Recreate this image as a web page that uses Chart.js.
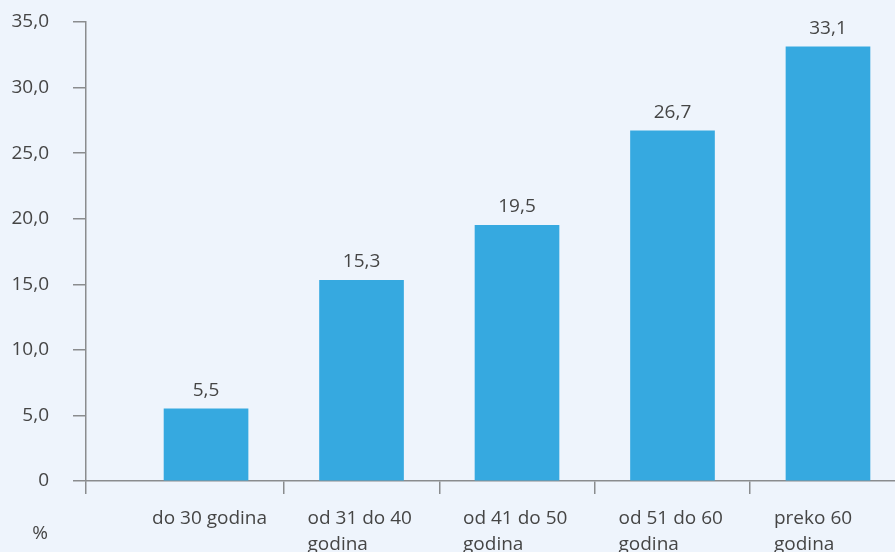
<!DOCTYPE html>
<html>
<head>
<meta charset="utf-8">
<title>Udio po dobnim skupinama</title>
<script src="https://cdn.jsdelivr.net/npm/chart.js@4/dist/chart.umd.min.js"></script>
<style>
    html, body { margin: 0; padding: 0; background: #eef4fc; overflow: hidden; }
    #wrap { width: 895px; height: 552px; position: relative; }
</style>
</head>
<body>
<div id="wrap"><canvas id="ageChart"></canvas></div>
<script>
// age groups (each entry = lines of the axis label)
const categories = [
    ['do 30 godina'],
    ['od 31 do 40', 'godina'],
    ['od 41 do 50', 'godina'],
    ['od 51 do 60', 'godina'],
    ['preko 60', 'godina']
];
// share in percent
const values = [5.5, 15.3, 19.5, 26.7, 33.1];
// y axis ticks
const yTicks = [0, 5, 10, 15, 20, 25, 30, 35];
const unitLabel = '%';

const textColor = '#454545';
const axisColor = '#8a8c8e';
const barColor = '#36a9e0';

// x range so that categories sit where the original puts them
const X_MIN = -0.772;
const X_MAX = 4.431;

// 35.0 -> "35,0", 0 -> "0"
function formatNum(v) {
    return v === 0 ? '0' : v.toFixed(1).replace('.', ',');
}

Chart.defaults.font.family = '"Open Sans", sans-serif';
Chart.defaults.font.size = 19;
Chart.defaults.color = textColor;

// values written above the bars
const barValueLabels = {
    id: 'barValueLabels',
    afterDatasetsDraw(chart) {
        const ctx = chart.ctx;
        const meta = chart.getDatasetMeta(0);
        ctx.save();
        ctx.font = '19px "Open Sans"';
        ctx.fillStyle = textColor;
        ctx.textAlign = 'center';
        ctx.textBaseline = 'alphabetic';
        meta.data.forEach((bar, i) => {
            ctx.fillText(formatNum(values[i]), bar.x, bar.y - 13);
        });
        ctx.restore();
    },
    afterDraw(chart) {
        // unit label in the bottom left corner
        const ctx = chart.ctx;
        ctx.save();
        ctx.font = '19px "Open Sans"';
        ctx.fillStyle = textColor;
        ctx.textAlign = 'center';
        ctx.textBaseline = 'middle';
        ctx.fillText(unitLabel, 40, 534);
        ctx.restore();
    }
};

new Chart(document.getElementById('ageChart').getContext('2d'), {
    type: 'bar',
    data: {
        datasets: [{
            data: values.map((v, i) => ({ x: i, y: v })),
            backgroundColor: barColor,
            borderWidth: 0,
            barThickness: 84,
            xAxisID: 'x',
            yAxisID: 'y'
        }]
    },
    options: {
        responsive: true,
        maintainAspectRatio: false,
        animation: false,
        layout: { padding: { top: 22, right: 0, bottom: 0, left: 0 } },
        plugins: {
            legend: { display: false },
            tooltip: { enabled: false }
        },
        scales: {
            // tick marks between the categories
            x: {
                type: 'linear',
                position: 'bottom',
                min: X_MIN,
                max: X_MAX,
                offset: false,
                afterBuildTicks: scale => {
                    const marks = [X_MIN];
                    for (let i = 1; i < categories.length; i++) marks.push(i - 0.5);
                    scale.ticks = marks.map(v => ({ value: v }));
                },
                ticks: { display: false },
                grid: {
                    offset: false,
                    drawOnChartArea: false,
                    drawTicks: true,
                    tickLength: 13,
                    color: axisColor,
                    lineWidth: 1.5
                },
                border: { display: true, color: axisColor, width: 1.5 },
                afterFit: scale => { scale.height = 13; }
            },
            // category names
            x2: {
                type: 'linear',
                position: 'bottom',
                min: X_MIN,
                max: X_MAX,
                offset: false,
                afterBuildTicks: scale => {
                    scale.ticks = categories.map((c, i) => ({ value: i }));
                },
                ticks: {
                    autoSkip: false,
                    maxRotation: 0,
                    align: 'start',
                    labelOffset: -54,
                    padding: 4,
                    font: { size: 19, lineHeight: 1.37 },
                    callback: v => categories[v]
                },
                grid: { display: false, offset: false },
                border: { display: false },
                afterFit: scale => {
                    scale.height = 58;
                    scale.paddingLeft = 0;
                    scale.paddingRight = 0;
                }
            },
            y: {
                min: 0,
                max: 35,
                afterBuildTicks: scale => {
                    scale.ticks = yTicks.map(v => ({ value: v }));
                },
                ticks: {
                    padding: 24,
                    callback: v => formatNum(v)
                },
                grid: {
                    drawOnChartArea: false,
                    tickLength: 13,
                    color: axisColor,
                    lineWidth: 1.5
                },
                border: { display: true, color: axisColor, width: 1.5 },
                afterFit: scale => {
                    scale.width = 86;
                    scale.paddingTop = 0;
                    scale.paddingBottom = 0;
                }
            }
        }
    },
    plugins: [barValueLabels]
});
</script>
</body>
</html>
